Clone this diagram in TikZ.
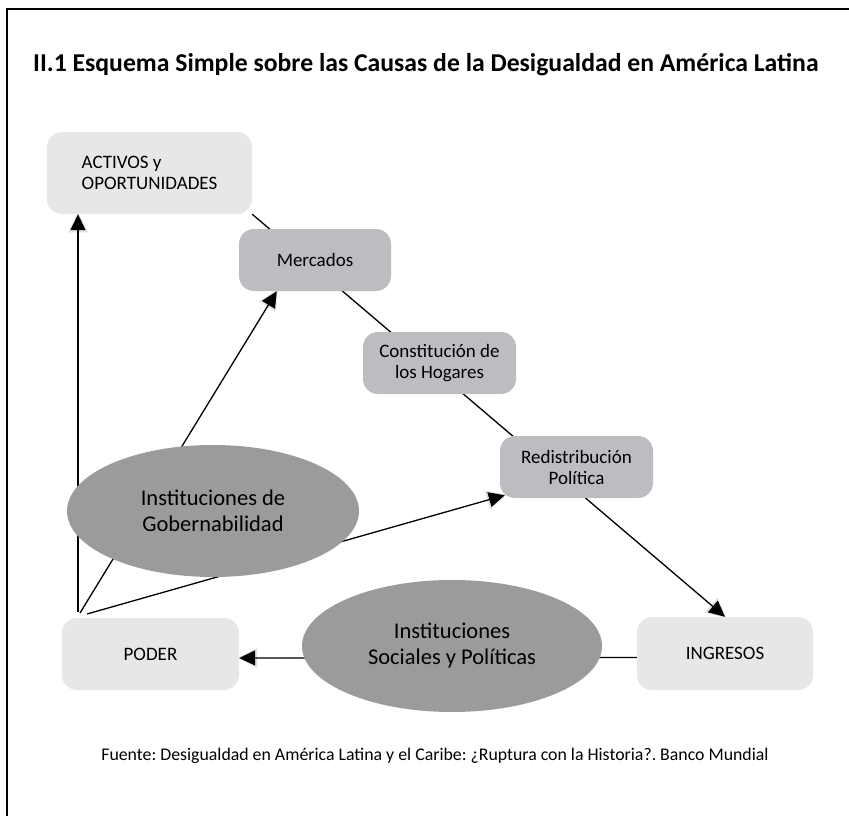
\documentclass[tikz,border=0pt]{standalone}
\usepackage{fontspec}
\setmainfont{Carlito}
\usetikzlibrary{arrows.meta,calc,shapes.geometric}
\pgfdeclarelayer{bg}
\pgfsetlayers{bg,main}
\definecolor{lightbox}{HTML}{E6E7E8}
\definecolor{midbox}{HTML}{BCBDC0}
\definecolor{ellfill}{HTML}{9B9B9B}
\definecolor{halo}{HTML}{E2E2E2}
\tikzset{
  lbox/.style={draw=none,fill=lightbox,rounded corners=15pt,font=\fontsize{19}{21}\selectfont,align=center,inner sep=0pt},
  mbox/.style={draw=none,fill=midbox,rounded corners=15pt,font=\fontsize{19}{21}\selectfont,align=center,inner sep=0pt},
  ell/.style={ellipse,draw=none,fill=ellfill,font=\fontsize{22.5}{26}\selectfont,align=center,inner sep=0pt},
  conn/.style={line width=1.3pt,black},
  arr/.style={conn,-{Triangle[length=16pt,width=15pt]},
    preaction={draw=halo,shorten >=-2.5pt,-{Triangle[length=21pt,width=21pt]}}},
}
\begin{document}
\frenchspacing
\begin{tikzpicture}[x=1pt,y=-1pt]
\useasboundingbox (0,0) rectangle (849,816);
\draw[line width=1.4pt] (849,9) -- (7,9) -- (7,816);
\node[anchor=west,font=\bfseries\fontsize{25.7}{30}\selectfont,inner sep=0pt] (title) at (33,65) {II.1 Esquema Simple sobre las Causas de la Desigualdad en América Latina};
% boxes
\node[lbox,minimum width=205pt,minimum height=82pt,align=left] (activos) at (149.5,173) {ACTIVOS y\\OPORTUNIDADES};
\node[mbox,minimum width=152pt,minimum height=62pt] (mercados) at (315,260) {Mercados};
\node[mbox,minimum width=153pt,minimum height=62pt] (hogares) at (439.5,363) {Constitución de\\los Hogares};
\node[mbox,minimum width=153pt,minimum height=62pt] (redis) at (576.5,467) {Redistribución\\Política};
\node[lbox,minimum width=176pt,minimum height=73pt] (ingresos) at (725,653.5) {INGRESOS};
\node[lbox,minimum width=177pt,minimum height=72pt] (poder) at (150.5,654) {PODER};
\node[ell,minimum width=292pt,minimum height=132pt] (gob) at (213,511) {Instituciones de\\Gobernabilidad};
\node[ell,minimum width=300pt,minimum height=132pt] (soc) at (452,646) {Instituciones\\Sociales y Políticas};
\node[font=\fontsize{17.8}{20}\selectfont,inner sep=0pt] (fuente) at (435,756) {Fuente: Desigualdad en América Latina y el Caribe: ¿Ruptura con la Historia?. Banco Mundial};
\coordinate (p1) at (78,612);
\coordinate (p2) at (80,613);
\coordinate (p3) at (87,614);
\begin{pgfonlayer}{bg}
\draw[arr] (activos.south east) -- (ingresos.north);
\draw[arr] (p1) -- (activos.south -| p1);
\draw[arr] (p2) -- ($(mercados.south west)+(38,0)$);
\draw[arr] (p3) -- ($(redis.south west)+(5,-3)$);
\draw[arr] ([yshift=-4pt]ingresos.west) -- ([yshift=-4pt]poder.east);
\end{pgfonlayer}
\end{tikzpicture}
\end{document}
